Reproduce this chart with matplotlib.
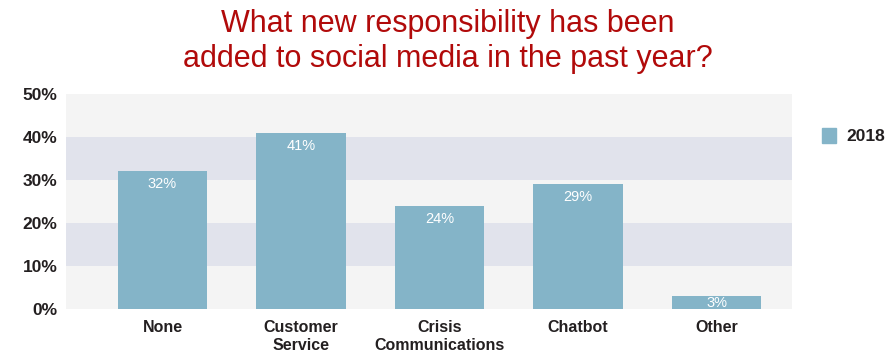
import matplotlib.pyplot as plt
from matplotlib.patches import Patch

categories = ["None", "Customer\nService", "Crisis\nCommunications", "Chatbot", "Other"]
values = [32, 41, 24, 29, 3]
series_name = "2018"
yticks = [0, 10, 20, 30, 40, 50]

bar_color = "#84b4c8"
text_dark = "#231f20"

plt.rcParams['font.family'] = ['Liberation Sans', 'DejaVu Sans']

fig = plt.figure(figsize=(8.95, 3.61), dpi=100)
ax = fig.add_axes([0.0737, 0.144, 0.8112, 0.596])

# alternating background bands
for i, lo in enumerate(yticks[:-1]):
    ax.axhspan(lo, lo + 10, color="#f4f4f4" if i % 2 == 0 else "#e1e3ec", zorder=0, lw=0)

x = range(len(categories))
bars = ax.bar(x, values, width=0.645, color=bar_color, zorder=2)
for xi, v in zip(x, values):
    if v < 6:
        # short bar: label sits in the middle
        ax.text(xi, v / 2, f"{v}%", ha="center", va="center", color="white", fontsize=10.5, zorder=3)
    else:
        ax.text(xi, v - 1.4, f"{v}%", ha="center", va="top", color="white", fontsize=10.5, zorder=3)

ax.set_xlim(-0.697, 4.545)
ax.set_ylim(0, 50)
ax.set_yticks(yticks)
ax.set_yticklabels([f"{t}%" for t in yticks], fontsize=12.5, fontweight="bold", color=text_dark)
ax.set_xticks(list(x))
ax.set_xticklabels(categories, fontsize=11.5, fontweight="bold", color=text_dark, linespacing=1.25)
ax.tick_params(length=0)
ax.tick_params(axis="x", pad=8)
ax.tick_params(axis="y", pad=6)
for s in ax.spines.values():
    s.set_visible(False)

ax.legend(handles=[Patch(color=bar_color, label=series_name)], loc="upper left",
          bbox_to_anchor=(1.02, 0.915), frameon=False, handlelength=0.8, handleheight=1.0,
          handletextpad=0.6, prop={"weight": "bold", "size": 12.5}, labelcolor=text_dark)

fig.text(0.5, 0.975, "What new responsibility has been\nadded to social media in the past year?",
         ha="center", va="top", color="#b10a0a", fontsize=22, linespacing=1.22)

fig.savefig("out.png", dpi=100)
